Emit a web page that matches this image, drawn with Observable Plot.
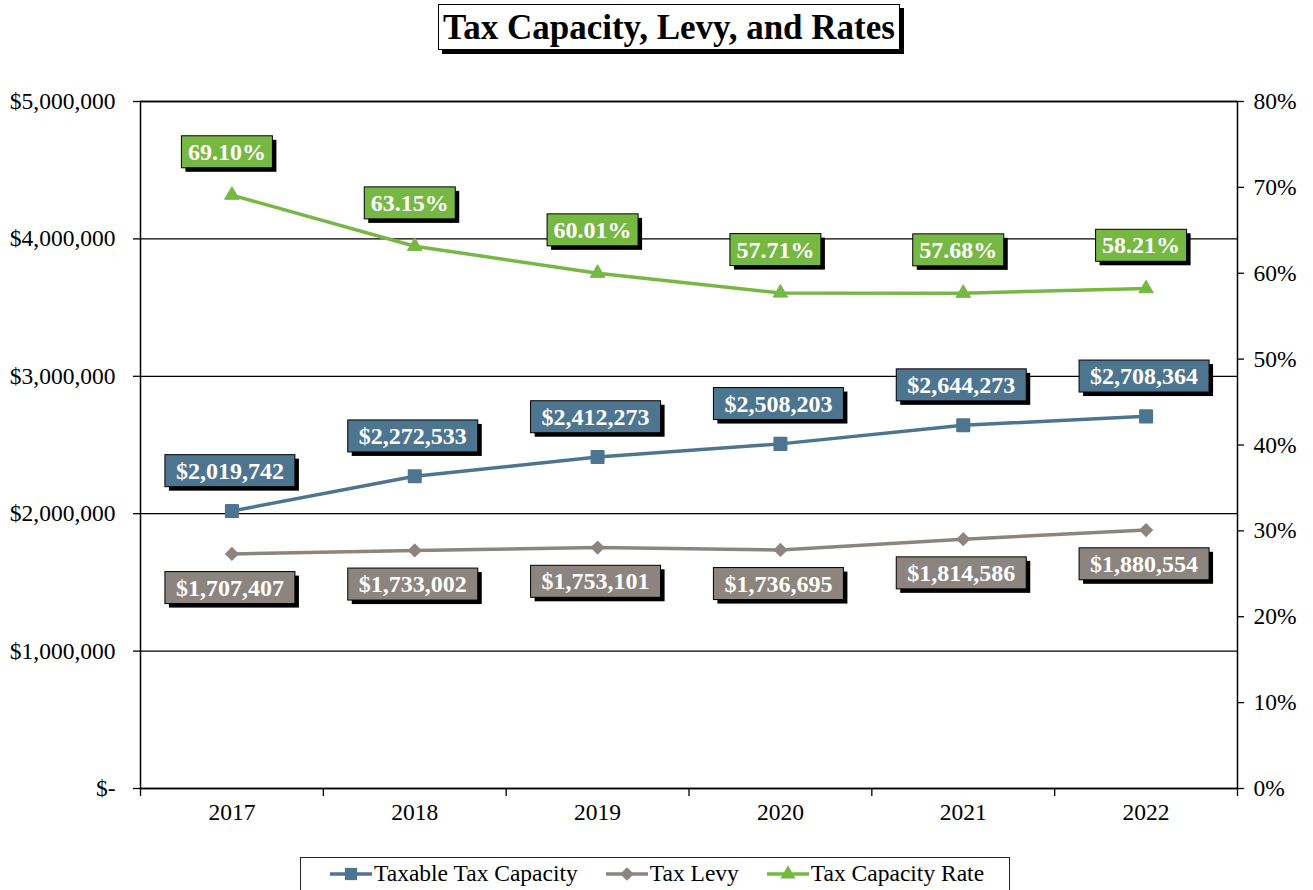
<!DOCTYPE html>
<html><head><meta charset="utf-8">
<script src="https://cdn.jsdelivr.net/npm/d3@7"></script>
<script src="https://cdn.jsdelivr.net/npm/@observablehq/plot@0.6"></script>
<style>
body{margin:0;background:#fff;font-family:"Liberation Serif","Times New Roman",serif;}
#wrap{position:relative;width:1313px;height:890px;overflow:hidden;background:#fff}
#title{position:absolute;left:438px;top:4px;width:460px;height:44px;border:1.5px solid #000;box-shadow:4px 4px 0 #000;background:#fff;font-weight:bold;font-size:35px;text-align:center;line-height:46px;white-space:nowrap}
#chart{position:absolute;left:0;top:60px}
#legend{position:absolute;left:300px;top:857px;width:710px;height:40px;border:1.5px solid #222;background:#fff;display:flex;align-items:flex-start;padding-top:2px;box-sizing:border-box;padding-left:29px;font-size:23.5px;white-space:nowrap}
#legend .item{display:flex;align-items:center;margin-right:28px}
#legend svg{margin-right:2px}
</style>
</head><body>
<div id="wrap">
  <div id="title">Tax Capacity, Levy, and Rates</div>
  <div id="chart"></div>
  <div id="legend"></div>
</div>
<script>
const years = ["2017","2018","2019","2020","2021","2022"];
const capacity = [2019742, 2272533, 2412273, 2508203, 2644273, 2708364];
const levy = [1707407, 1733002, 1753101, 1736695, 1814586, 1880554];
const rate = [69.10, 63.15, 60.01, 57.71, 57.68, 58.21];
const leftTicks = [0, 1000000, 2000000, 3000000, 4000000, 5000000];
const rightTicks = [0, 10, 20, 30, 40, 50, 60, 70, 80];
const seriesNames = ["Taxable Tax Capacity", "Tax Levy", "Tax Capacity Rate"];
const colors = {cap: "#4E7590", levy: "#8C847E", rate: "#76B843"};

const Y_MAX = 5000000, R_MAX = 80;
const toY = r => r / R_MAX * Y_MAX;
const money = d3.format(",");

const capData = years.map((y, i) => ({i: i + 0.5, v: capacity[i], label: "$" + money(capacity[i])}));
const levyData = years.map((y, i) => ({i: i + 0.5, v: levy[i], label: "$" + money(levy[i])}));
const rateData = years.map((y, i) => ({i: i + 0.5, v: toY(rate[i]), label: rate[i].toFixed(2) + "%"}));

const labelStyle = {fill: "white", fontWeight: "bold", fontSize: 24, fontFamily: "Liberation Serif", textAnchor: "middle"};
const AX = 23.5;

const plot = Plot.plot({
  width: 1313, height: 780,
  marginTop: 41, marginBottom: 52, marginLeft: 140, marginRight: 76,
  x: {domain: [0, years.length], axis: null, label: null},
  y: {domain: [0, Y_MAX], axis: null, label: null},
  style: {fontFamily: "Liberation Serif", fontSize: AX + "px", color: "#000", background: "white"},
  marks: [
    Plot.gridY(leftTicks, {stroke: "#000", strokeOpacity: 1, strokeWidth: 1.3}),
    Plot.frame({stroke: "#000", strokeWidth: 1.5}),
    Plot.axisY(leftTicks, {anchor: "left", tickSize: 7, tickPadding: 18, label: null,
      tickFormat: d => d === 0 ? "$-" : "$" + money(d), fontSize: AX, strokeWidth: 1.3}),
    Plot.axisY(rightTicks.map(toY), {anchor: "right", tickSize: 6, tickPadding: 10, label: null,
      tickFormat: d => Math.round(d / Y_MAX * R_MAX) + "%", fontSize: AX, strokeWidth: 1.3}),
    Plot.axisX(d3.range(0, years.length + 1), {anchor: "bottom", tickSize: 8, tickFormat: () => "", label: null, strokeWidth: 1.3}),
    Plot.axisX(years.map((y, i) => i + 0.5), {anchor: "bottom", tickSize: 0, tickPadding: 15, label: null,
      tickFormat: d => years[Math.floor(d)], fontSize: AX}),
    Plot.line(capData, {x: "i", y: "v", stroke: colors.cap, strokeWidth: 3.5}),
    Plot.line(levyData, {x: "i", y: "v", stroke: colors.levy, strokeWidth: 3.5}),
    Plot.line(rateData, {x: "i", y: "v", stroke: colors.rate, strokeWidth: 3.5}),
    Plot.dot(capData, {x: "i", y: "v", symbol: "square", fill: colors.cap, stroke: colors.cap, strokeWidth: 2, strokeLinejoin: "round", r: 6.8}),
    Plot.dot(levyData, {x: "i", y: "v", symbol: "diamond2", fill: colors.levy, r: 6.4}),
    Plot.dot(rateData, {x: "i", y: "v", symbol: "triangle", fill: colors.rate, stroke: colors.rate, strokeWidth: 1, strokeLinejoin: "round", r: 5.4}),
    Plot.text(capData, {x: "i", y: "v", text: "label", dx: -2, dy: -40, ...labelStyle}),
    Plot.text(levyData, {x: "i", y: "v", text: "label", dx: -2, dy: 34, ...labelStyle}),
    Plot.text(rateData, {x: "i", y: "v", text: "label", dx: -5, dy: -43, ...labelStyle})
  ]
});
document.getElementById("chart").append(plot);

// Boxes with drop shadows behind the data labels (the three text marks, in order)
const ns = "http://www.w3.org/2000/svg";
const textGroups = Array.from(plot.querySelectorAll('g[aria-label="text"]'));
const boxFills = [colors.cap, colors.levy, colors.rate];
const boxPadX = [11, 11, 6.5];
textGroups.slice(-3).forEach((g, k) => {
  const fill = boxFills[k];
  Array.from(g.querySelectorAll("text")).forEach(t => {
    const b = t.getBBox();
    const padX = boxPadX[k], padY = 3;
    const mk = (off, f, stroke) => {
      const r = document.createElementNS(ns, "rect");
      r.setAttribute("x", b.x - padX + off);
      r.setAttribute("y", b.y - padY + off);
      r.setAttribute("width", b.width + 2 * padX);
      r.setAttribute("height", b.height + 2 * padY);
      r.setAttribute("fill", f);
      if (stroke) { r.setAttribute("stroke", stroke); r.setAttribute("stroke-width", 1); }
      const tr = t.getAttribute("transform");
      if (tr) r.setAttribute("transform", tr);
      g.insertBefore(r, t);
    };
    mk(4, "#000");
    mk(0, fill, "#000");
  });
});

// Legend
const legend = d3.select("#legend");
const symbols = [d3.symbolSquare, d3.symbolDiamond2, d3.symbolTriangle];
const sizes = [150, 120, 100];
[colors.cap, colors.levy, colors.rate].forEach((c, k) => {
  const item = legend.append("div").attr("class", "item");
  const svg = item.append("svg").attr("width", 42).attr("height", 24);
  svg.append("line").attr("x1", 0).attr("x2", 42).attr("y1", 12).attr("y2", 12).attr("stroke", c).attr("stroke-width", 3.5);
  svg.append("path").attr("d", d3.symbol(symbols[k], sizes[k])()).attr("transform", "translate(21,12)").attr("fill", c);
  item.append("span").text(seriesNames[k]);
});
</script>
</body></html>
